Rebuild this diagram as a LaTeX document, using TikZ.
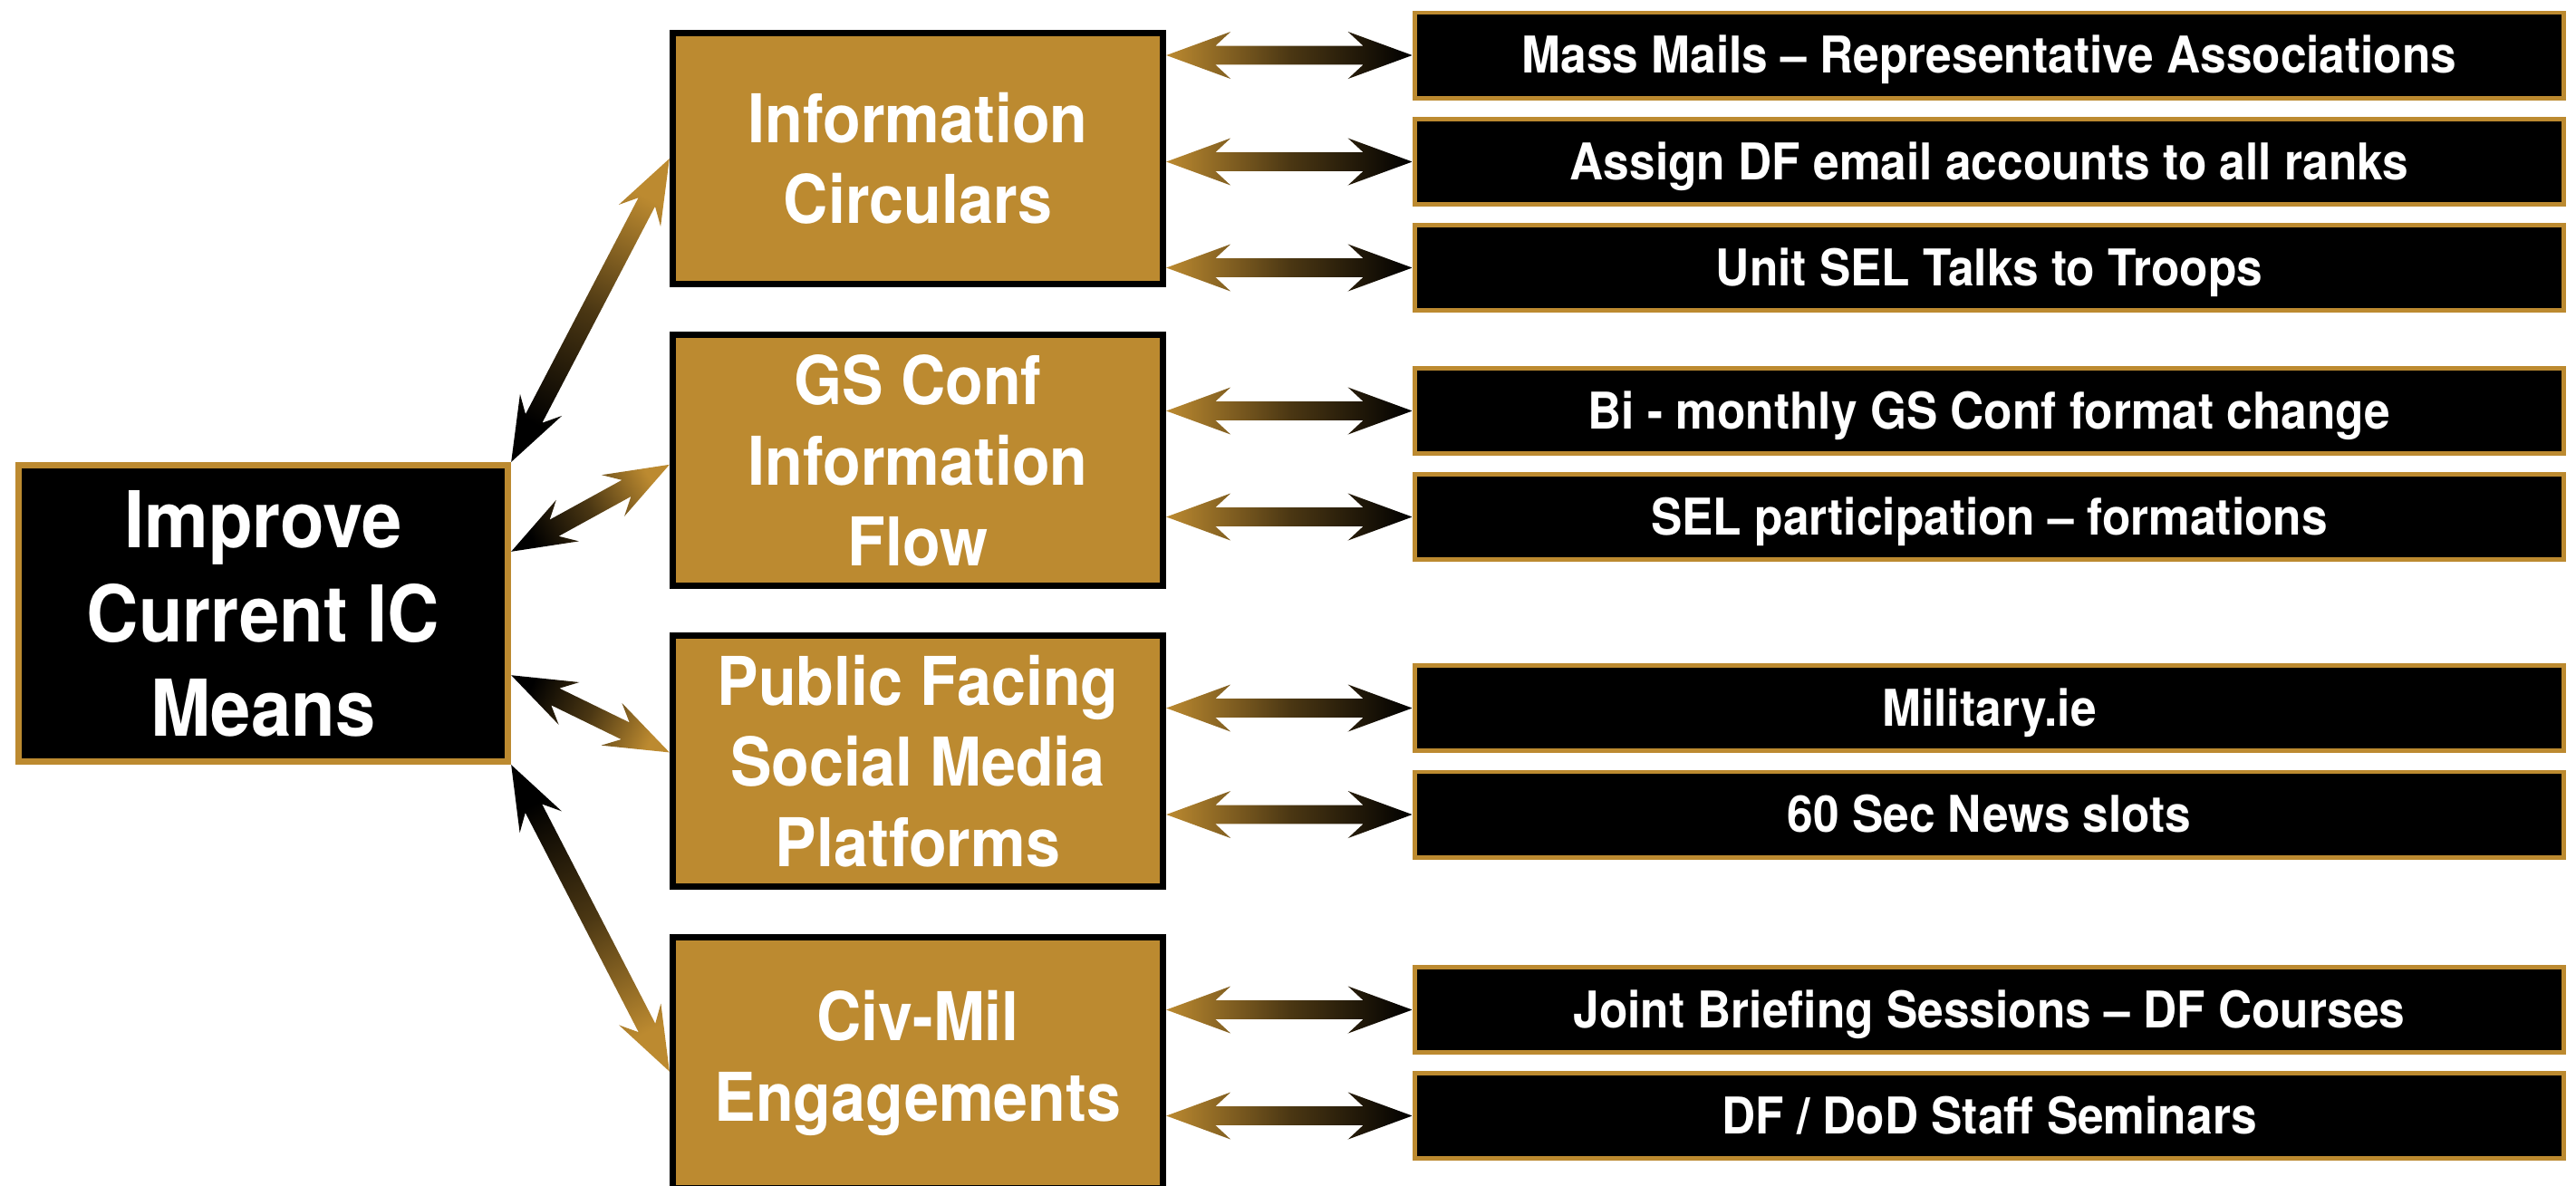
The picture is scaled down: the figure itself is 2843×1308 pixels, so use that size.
\documentclass[tikz,border=0pt]{standalone}
\usepackage{fontspec}
\setmainfont{TeX Gyre Heros}[FakeStretch=0.92]
\usepackage{tikz}
\usetikzlibrary{calc}
\definecolor{ICGold}{RGB}{188,138,48}
\newcommand\dblarrow[2]{%
\path let \p1=(#1), \p2=(#2), \n1={atan2(\y2-\y1,\x2-\x1)} in \pgfextra{\xdef\arang{\n1}};
\pgfmathsetmacro\shang{\arang-90}
\shade[top color=ICGold,bottom color=black,middle color=ICGold!40!black,shading angle=\shang]
   (#1) -- ($(#1)+(\arang:20.2pt)+(\arang+90:7.4pt)$)
   -- ($(#1)+(\arang:15.4pt)+(\arang+90:2.95pt)$)
   -- ($(#2)+(\arang+180:15.4pt)+(\arang+90:2.95pt)$)
   -- ($(#2)+(\arang+180:20.2pt)+(\arang+90:7.4pt)$)
   -- (#2)
   -- ($(#2)+(\arang+180:20.2pt)+(\arang-90:7.4pt)$)
   -- ($(#2)+(\arang+180:15.4pt)+(\arang-90:2.95pt)$)
   -- ($(#1)+(\arang:15.4pt)+(\arang-90:2.95pt)$)
   -- ($(#1)+(\arang:20.2pt)+(\arang-90:7.4pt)$) -- cycle;
}
\begin{document}
\begin{tikzpicture}[x=0.01cm,y=-0.01cm,box/.style n args={4}{rectangle,fill=#1,draw=#2,minimum width=#3,minimum height=#4,line width=2pt,inner sep=0pt,text=white,align=center}]
\path[use as bounding box,clip] (0,0) rectangle (2843,1308);
\node[box={black}{ICGold}{5.40cm}{3.27cm},font=\bfseries\fontsize{24.6}{29.6}\selectfont] (main) at (290.5,677) {Improve\\Current IC\\Means};
\node[box={ICGold}{black}{5.41cm}{2.77cm},font=\bfseries\fontsize{21.1}{25.3}\selectfont] (ic) at (1013,175) {Information\\Circulars};
\node[box={ICGold}{black}{5.41cm}{2.77cm},font=\bfseries\fontsize{21.1}{25.3}\selectfont] (gs) at (1013,508) {GS Conf\\Information\\Flow};
\node[box={ICGold}{black}{5.41cm}{2.77cm},font=\bfseries\fontsize{21.1}{25.3}\selectfont] (pf) at (1013,840) {Public Facing\\Social Media\\Platforms};
\node[box={ICGold}{black}{5.41cm}{2.77cm},font=\bfseries\fontsize{21.1}{25.3}\selectfont] (cm) at (1013,1173) {Civ-Mil\\Engagements};
\foreach \nm/\ypos/\pa/\txt in %
{r1/61/ic/{Mass Mails – Representative Associations},
 r2/178.5/ic/{Assign DF email accounts to all ranks},
 r3/295.5/ic/{Unit SEL Talks to Troops},
 r4/453.5/gs/{Bi - monthly GS Conf format change},
 r5/570.5/gs/{SEL participation – formations},
 r6/781.5/pf/{Military.ie},
 r7/899/pf/{60 Sec News slots},
 r8/1114.5/cm/{Joint Briefing Sessions – DF Courses},
 r9/1231.5/cm/{DF / DoD Staff Seminars}} {
   \node[box={black}{ICGold}{12.68cm}{0.94cm},line width=1.4pt,text height=11.2pt,text depth=0pt,font=\bfseries\fontsize{15.9}{19}\selectfont] (\nm) at (2195.5,\ypos) {\txt};
   \coordinate (e\nm) at (\pa.east |- \nm.west);
   \dblarrow{\nm.west}{e\nm}
}
\dblarrow{main.north east}{ic.west}
\dblarrow{main.14}{gs.181.5}
\dblarrow{main.-14}{pf.178}
\dblarrow{main.south east}{cm.182.5}
\end{tikzpicture}
\end{document}
